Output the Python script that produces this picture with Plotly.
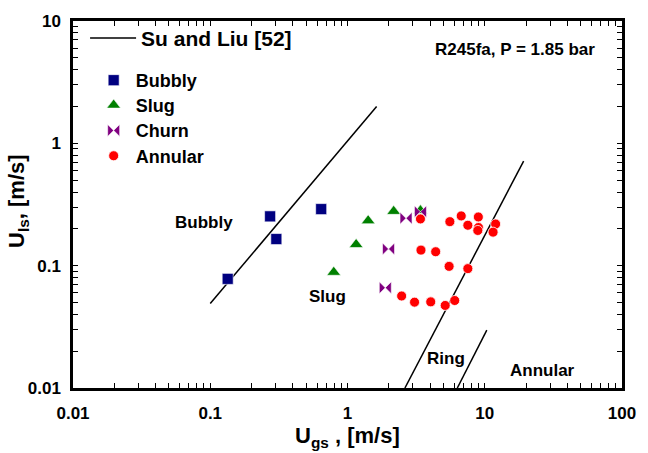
import plotly.graph_objects as go

# Flow-regime observations, superficial velocities in m/s
bubbly_x = [0.134, 0.273, 0.303, 0.643]
bubbly_y = [0.078, 0.253, 0.165, 0.290]

slug_x = [0.794, 1.156, 1.414, 2.17, 3.40]
slug_y = [0.0883, 0.149, 0.233, 0.278, 0.282]

churn_x = [1.885, 1.99, 2.67, 3.40]
churn_y = [0.066, 0.137, 0.244, 0.276]

annular_x = [3.40, 5.57, 6.74, 8.98, 7.53, 9.00, 8.90, 12.0, 11.5,
             3.43, 4.39, 5.50, 7.53, 2.48, 3.08, 4.04, 5.15, 6.04]
annular_y = [0.241, 0.229, 0.255, 0.250, 0.214, 0.205, 0.194, 0.219, 0.188,
             0.134, 0.130, 0.0987, 0.0946, 0.0565, 0.0503, 0.0506, 0.0473, 0.0519]

# Su and Liu [52] transition boundaries (segments separated by None)
su_liu_x = [0.1, 1.63, None, 2.62, 19.2, None, 6.31, 10.35]
su_liu_y = [0.049, 2.0, None, 0.01, 0.716, None, 0.01, 0.0297]

# Regime labels on the map: (text, log10 x, log10 y)
region_labels = [("Bubbly", -1.048, -0.645), ("Slug", -0.145, -1.25),
                 ("Ring", 0.717, -1.760), ("Annular", 1.42, -1.860)]

FONT = "Liberation Sans, Arial, sans-serif"

fig = go.Figure()

fig.add_trace(go.Scatter(
    x=su_liu_x, y=su_liu_y, mode="lines", name="<b>Su and Liu [52]</b>",
    line=dict(color="black", width=1.5), legend="legend", connectgaps=False,
    showlegend=True))

fig.add_trace(go.Scatter(
    x=bubbly_x, y=bubbly_y, mode="markers", name="<b>Bubbly</b>",
    marker=dict(symbol="square", size=11, color="#000080",
                line=dict(color="white", width=0.6)), legend="legend2"))

fig.add_trace(go.Scatter(
    x=slug_x, y=slug_y, mode="markers", name="<b>Slug</b>",
    marker=dict(symbol="triangle-up", size=12, color="#008000",
                line=dict(color="white", width=0.6)), legend="legend3"))

fig.add_trace(go.Scatter(
    x=churn_x, y=churn_y, mode="markers", name="<b>Churn</b>",
    marker=dict(symbol="bowtie", size=12, color="#800080",
                line=dict(color="white", width=0.6)), legend="legend4"))

fig.add_trace(go.Scatter(
    x=annular_x, y=annular_y, mode="markers", name="<b>Annular</b>",
    marker=dict(symbol="circle", size=10, color="#FF0000",
                line=dict(color="white", width=0.8)), legend="legend5"))


def log_ticks(lo, hi):
    vals, texts = [], []
    for k in range(lo, hi + 1):
        for d in range(1, 10):
            v = d * 10.0 ** k
            if v > 10.0 ** hi * 1.0001:
                break
            vals.append(v)
            if d == 1:
                texts.append("<b>%g</b>" % v)
            else:
                texts.append("")
    return vals, texts


xt_vals, xt_text = log_ticks(-2, 2)
yt_vals, yt_text = log_ticks(-2, 1)

axis_common = dict(
    showline=True, linecolor="black", linewidth=2.5, mirror="ticks",
    ticks="inside", ticklen=5, tickwidth=1, tickcolor="black",
    showgrid=False, zeroline=False,
    tickfont=dict(family=FONT, size=17, color="black"),
)

fig.update_xaxes(type="log", range=[-2, 2], tickmode="array",
                 tickvals=xt_vals, ticktext=xt_text, ticklabelstandoff=8,
                 **axis_common)
fig.update_yaxes(type="log", range=[-2, 1], tickmode="array",
                 tickvals=yt_vals, ticktext=yt_text, ticklabelstandoff=6,
                 **axis_common)

for text, lx, ly in region_labels:
    fig.add_annotation(x=lx, y=ly, xref="x", yref="y", text="<b>%s</b>" % text,
                       showarrow=False, font=dict(family=FONT, size=17, color="black"))

fig.add_annotation(x=1.22, y=0.77, xref="x", yref="y",
                   text="<b>R245fa, P = 1.85 bar</b>", showarrow=False,
                   font=dict(family=FONT, size=17, color="black"))

# Axis titles
fig.add_annotation(x=0.5, y=-0.133, xref="paper", yref="paper", yanchor="middle",
                   text="<b>U<sub>gs</sub> , [m/s]</b>", showarrow=False,
                   font=dict(family=FONT, size=22, color="black"))
fig.add_annotation(x=-0.1, y=0.51, xref="paper", yref="paper", xanchor="center",
                   text="<b>U<sub>ls</sub>, [m/s]</b>", textangle=-90, showarrow=False,
                   font=dict(family=FONT, size=22, color="black"))

legend_base = dict(bgcolor="rgba(0,0,0,0)", borderwidth=0, xanchor="left",
                   yanchor="middle", itemclick=False, itemdoubleclick=False)
regime_legend = dict(font=dict(family=FONT, size=18), itemwidth=34, **legend_base)

fig.update_layout(
    width=648, height=453,
    margin=dict(l=73, r=16, t=16, b=65),
    paper_bgcolor="white", plot_bgcolor="white",
    font=dict(family=FONT, color="black"),
    showlegend=True,
    legend=dict(x=0.022, y=0.953, font=dict(family=FONT, size=21), itemwidth=46,
                **legend_base),
    legend2=dict(x=0.034, y=0.838, **regime_legend),
    legend3=dict(x=0.034, y=0.770, **regime_legend),
    legend4=dict(x=0.034, y=0.701, **regime_legend),
    legend5=dict(x=0.034, y=0.632, **regime_legend),
)

fig.write_html("out.html")
